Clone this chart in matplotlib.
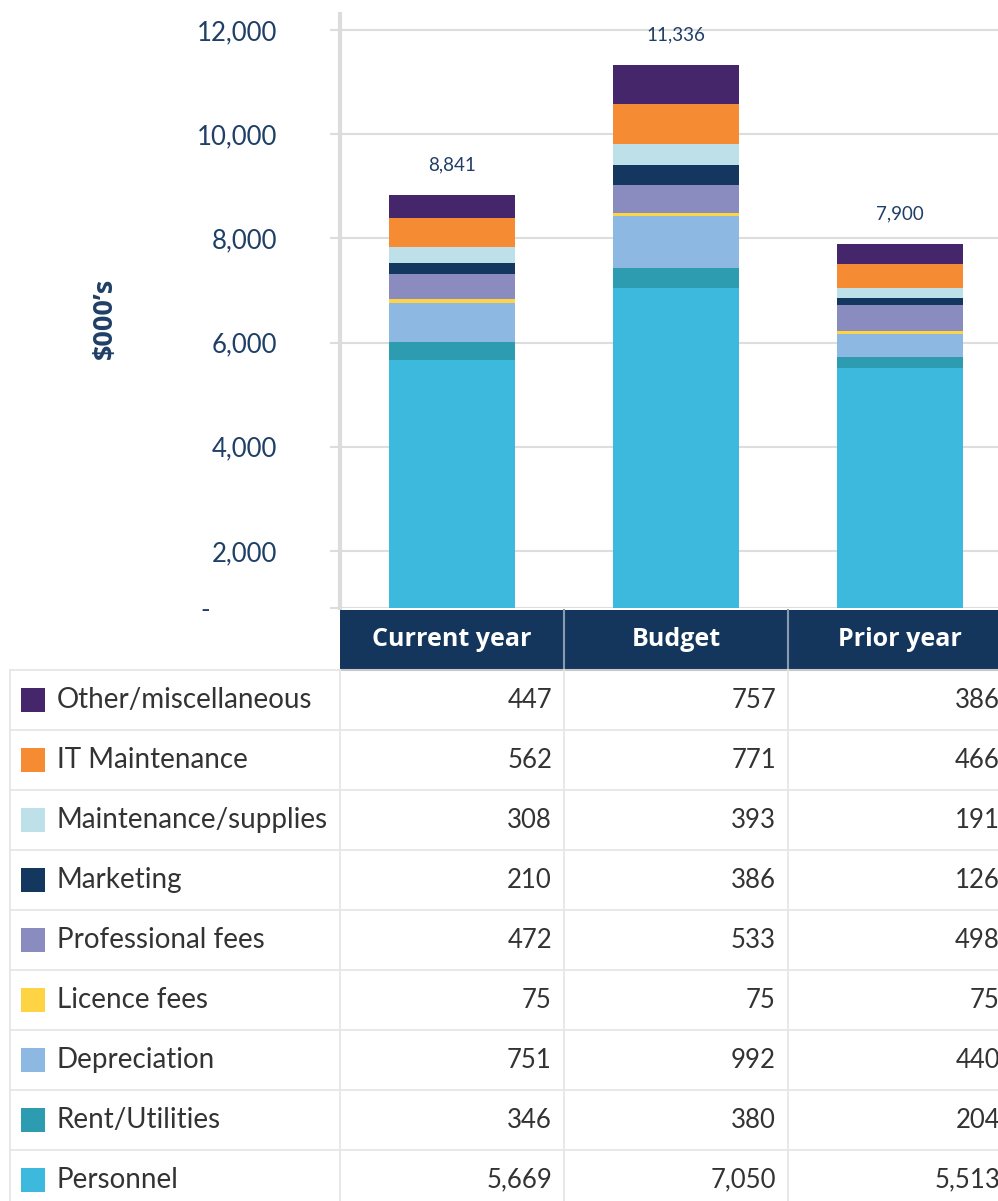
import numpy as np
import matplotlib.pyplot as plt
import matplotlib.transforms as mtransforms
from matplotlib.patches import Rectangle

plt.rcParams['font.family'] = ['Lato', 'DejaVu Sans']

# data (table order, top to bottom)
columns = ['Current year', 'Budget', 'Prior year']
categories = ['Other/miscellaneous', 'IT Maintenance', 'Maintenance/supplies', 'Marketing',
              'Professional fees', 'Licence fees', 'Depreciation', 'Rent/Utilities', 'Personnel']
current_year = [447, 562, 308, 210, 472, 75, 751, 346, 5669]
budget = [757, 771, 393, 386, 533, 75, 992, 380, 7050]
prior_year = [386, 466, 191, 126, 498, 75, 440, 204, 5513]
totals = [8841, 11336, 7900]
colors = ['#46266b', '#f58c33', '#bee0e8', '#13375f', '#8a8bbf',
          '#ffd444', '#8db8e2', '#2e9cb0', '#3cb9dc']

navy = '#1f3f66'
W, H = 998, 1201
fig = plt.figure(figsize=(W / 100, H / 100), dpi=100)

# chart area
left, right, top, bottom = 340, 998, 14, 608
ax = fig.add_axes([left / W, 1 - bottom / H, (right - left) / W, (bottom - top) / H])

values = np.array([current_year, budget, prior_year]).T  # rows = categories
x = np.arange(len(columns))
base = np.zeros(len(columns))
for i in range(len(categories) - 1, -1, -1):
    ax.bar(x, values[i], bottom=base, width=0.5625, color=colors[i], zorder=3)
    base += values[i]

for xi, tot, t in zip(x, base, totals):
    ax.annotate(f'{t:,}', (xi, tot), xytext=(0, 15), textcoords='offset points',
                ha='center', va='bottom', fontsize=13.5, color=navy)

ymin = 2000 - (bottom - 551) / 0.0521
ymax = 12000 + (30 - top) / 0.0521
ax.set_ylim(ymin, ymax)
ax.set_xlim(-0.5, -0.5 + (right - left) / 224)
yt = [ymin, 2000, 4000, 6000, 8000, 10000, 12000]
ax.set_yticks(yt)
ax.set_yticklabels(['-'] + [f'{v:,}' for v in yt[1:]], fontsize=18.5, color=navy)
ax.tick_params(axis='y', length=7, width=1.5, color='#dddddd', pad=38)
# zero dash sits at the left like an accounting format
dash = ax.get_yticklabels()[0]
dash.set_horizontalalignment('left')
dash.set_transform(dash.get_transform() + mtransforms.ScaledTranslation(-0.77, 0, fig.dpi_scale_trans))
ax.set_xticks([])
ax.grid(axis='y', color='#dddddd', lw=1.5, zorder=0)
for s in ['top', 'right', 'bottom']:
    ax.spines[s].set_visible(False)
ax.spines['left'].set_color('#dcdcdc')
ax.spines['left'].set_linewidth(3)
fig.text(105 / W, 1 - 318 / H, "$000\u2019s", rotation=90, ha='center', va='center',
         fontsize=19.5, fontweight='bold', color=navy, family=['Open Sans', 'DejaVu Sans'])

# table
tb = fig.add_axes([0, 0, 1, 1])
tb.set_xlim(0, W)
tb.set_ylim(H, 0)
tb.axis('off')
col_x = [340, 564, 788, 1012]
head_top, head_bot, row_h = 610, 670, 60
line = '#e6e6e6'

for j, name in enumerate(columns):
    tb.add_patch(Rectangle((col_x[j], head_top), col_x[j + 1] - col_x[j], head_bot - head_top,
                           facecolor='#15365c', edgecolor='none'))
    tb.text((col_x[j] + col_x[j + 1]) / 2, (head_top + head_bot) / 2, name, ha='center',
            va='center', color='white', fontsize=18, fontweight='bold',
            family=['Open Sans', 'DejaVu Sans'])
for xv in col_x[1:3]:
    tb.plot([xv, xv], [head_top, head_bot], color='#8a9ab0', lw=1.5)
tb.plot([340, W], [head_bot, head_bot], color='#c8c8c8', lw=1.5)

for i, cat in enumerate(categories):
    y0 = head_bot + i * row_h
    yc = y0 + row_h / 2
    tb.plot([10, W], [y0 + row_h, y0 + row_h], color=line, lw=1.3)
    tb.add_patch(Rectangle((21, yc - 12), 24, 24, facecolor=colors[i], edgecolor='none'))
    tb.text(57, yc, cat, ha='left', va='center', fontsize=20, color='#333333')
    for j, v in enumerate(values[i]):
        tb.text(col_x[j + 1] - 12, yc, f'{v:,}', ha='right', va='center',
                fontsize=18.5, color='#333333')
tb.plot([10, 340], [head_bot, head_bot], color=line, lw=1.3)
tb.plot([10, 10], [head_bot, H], color=line, lw=1.3)
for xv in col_x[:3]:
    tb.plot([xv, xv], [head_bot, H], color=line, lw=1.3)

fig.savefig('out.png', dpi=100)
